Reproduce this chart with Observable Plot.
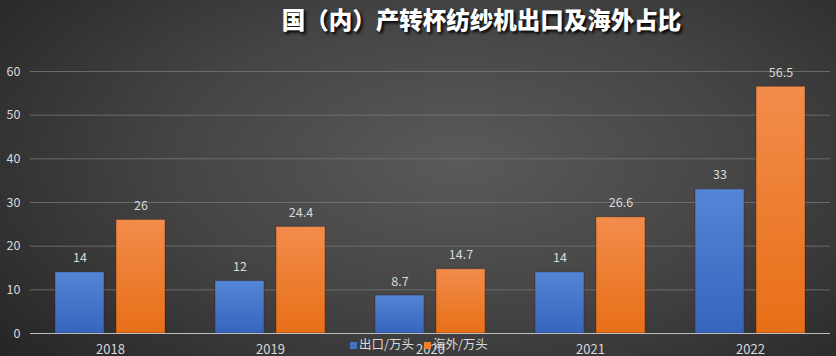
<!DOCTYPE html>
<html><head><meta charset="utf-8">
<script src="https://cdn.jsdelivr.net/npm/d3@7"></script>
<script src="https://cdn.jsdelivr.net/npm/@observablehq/plot@0.6"></script>
<style>
html,body{margin:0;padding:0;}
#wrap{position:relative;width:836px;height:356px;overflow:hidden;
 background:radial-gradient(ellipse 70% 85% at 55% 45%, #5a5a5a 0%, #444 50%, #262626 100%);
 font-family:"Noto Sans CJK SC","Microsoft YaHei",sans-serif;}
#title{position:absolute;left:0;right:0;top:2px;text-align:center;padding-left:127px;box-sizing:border-box;
 color:#fff;font-size:23.5px;font-weight:900;text-shadow:2px 2px 3px #000;}
#legend{position:absolute;left:350px;top:334px;color:#d9d9d9;font-size:12.5px;display:flex;gap:10px;align-items:center;z-index:2;}
#legend span.sw{display:inline-block;width:7px;height:7px;margin-right:2px;vertical-align:middle;}
#chart{position:absolute;left:0;top:0;}
</style></head>
<body><div id="wrap"><div id="chart"></div><div id="title">国（内）产转杯纺纱机出口及海外占比</div>
<div id="legend"><div><span class="sw" style="background:#4472c4"></span>出口/万头</div><div><span class="sw" style="background:#ed7d31"></span>海外/万头</div></div></div>
<script>
const years = ["2018","2019","2020","2021","2022"];
const seriesNames = ["出口/万头","海外/万头"];
const exportVals = [14, 12, 8.7, 14, 33];
const overseasVals = [26, 24.4, 14.7, 26.6, 56.5];
const yTicks = [0,10,20,30,40,50,60];

const data = [];
years.forEach((y,i)=>{
  data.push({year:y, series:seriesNames[0], value:exportVals[i]});
  data.push({year:y, series:seriesNames[1], value:overseasVals[i]});
});
const tickData = yTicks.map(v => ({v, year: years[0]}));

const chart = Plot.plot({
  width: 836, height: 356,
  marginTop: 71, marginBottom: 23, marginLeft: 30, marginRight: 6,
  style: {background:"transparent", color:"#d9d9d9", fontFamily:"'Noto Sans CJK SC',sans-serif", fontSize:"12px"},
  fx: {domain: years, padding: 0, label: null, axis: null},
  x: {domain: seriesNames, paddingInner: 0.2, paddingOuter: 0.41, axis: null},
  y: {domain: [0, 60], ticks: yTicks, label: null, axis: null},
  color: {domain: seriesNames, range: ["url(#gBlue)", "url(#gOrange)"]},
  marks: [
    Plot.ruleY(yTicks.filter(d=>d>0), {stroke:"#777", strokeOpacity:0.8, strokeWidth:1}),
    Plot.barY(data, {fx:"year", x:"series", y:"value", fill:"series", stroke:"#2a1a10", strokeOpacity:0.35, strokeWidth:1}),
    Plot.ruleY([0], {stroke:"#bdbdbd", strokeWidth:1}),
    Plot.text(data, {fx:"year", x:"series", y:"value", text:d=>String(d.value), dy:-14, fill:"#d9d9d9", fontSize:12.5}),
    Plot.text(tickData, {fx:"year", y:"v", text: d=>String(d.v), frameAnchor:"left", dx:-10, textAnchor:"end", fill:"#d9d9d9", fontSize:12.5}),
    Plot.text(years, {fx: d=>d, y: 0, frameAnchor:"middle", text: d=>d, dy:16, fill:"#d9d9d9", fontSize:13})
  ]
});

const ns = "http://www.w3.org/2000/svg";
const defs = document.createElementNS(ns, "defs");
defs.innerHTML = `
<linearGradient id="gBlue" x1="0" y1="0" x2="0" y2="1"><stop offset="0" stop-color="#5585d6"/><stop offset="1" stop-color="#3565bd"/></linearGradient>
<linearGradient id="gOrange" x1="0" y1="0" x2="0" y2="1"><stop offset="0" stop-color="#f28c4c"/><stop offset="1" stop-color="#e86f17"/></linearGradient>`;
chart.insertBefore(defs, chart.firstChild);
chart.style.overflow = "visible";
document.getElementById("chart").appendChild(chart);
</script>
</body></html>
